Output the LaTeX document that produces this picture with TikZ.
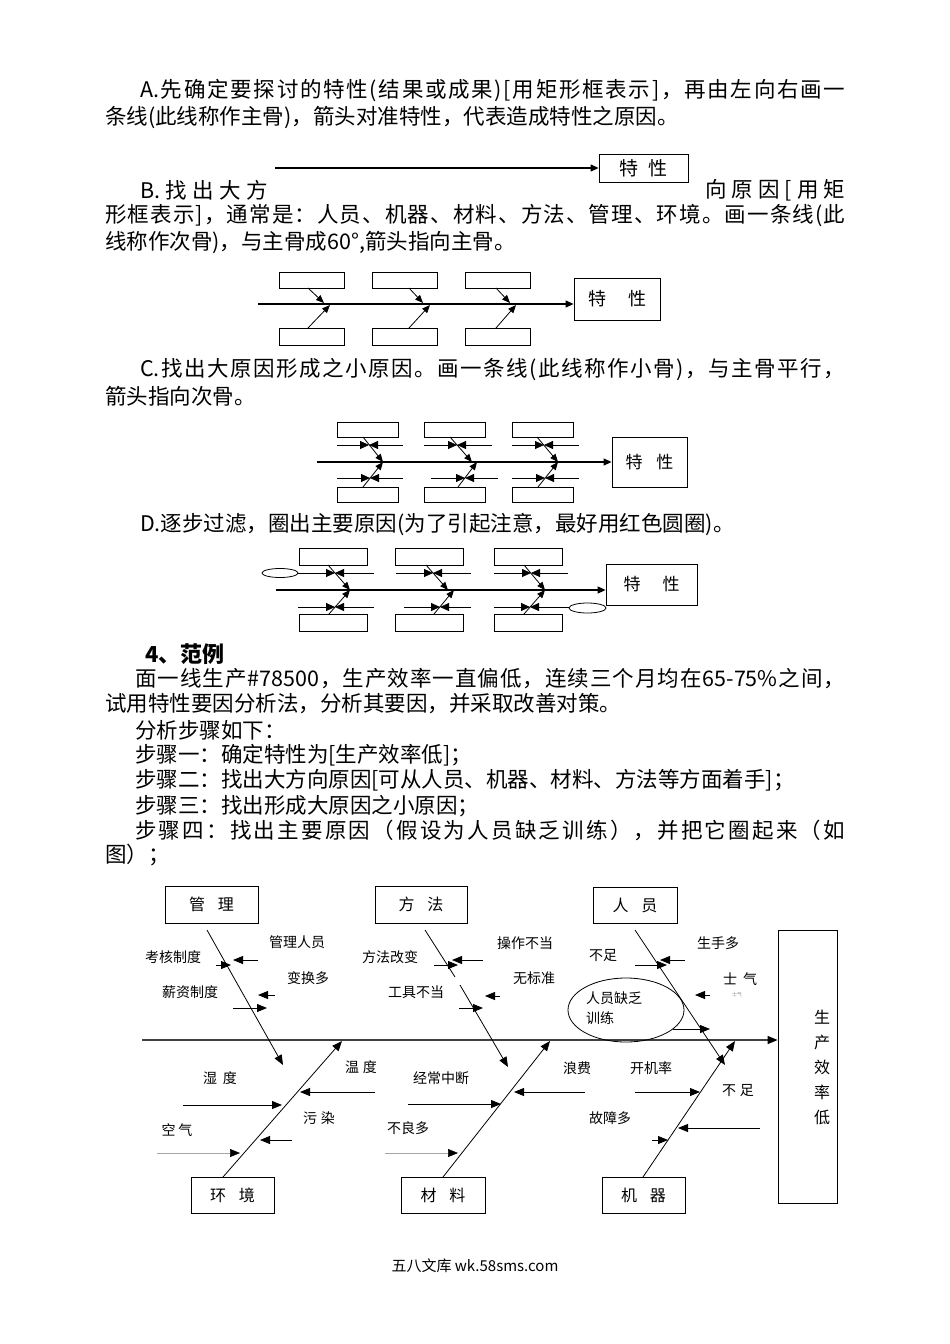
\documentclass[tikz,border=0pt]{standalone}
\usepackage{fontspec}
\setmainfont{Noto Sans CJK SC}
\usetikzlibrary{arrows.meta,shapes.geometric}
\def\endspread{ENDSPREAD}
\def\spreadtok#1{\ifx#1\endspread\else#1\hfill\expandafter\spreadtok\fi}
\newcommand\justline[2]{\hbox to #1{\spreadtok#2\endspread\unskip}}
\begin{document}
\begin{tikzpicture}[x=1pt,y=-1pt,
  txt/.style={anchor=west,inner sep=0pt,font=\fontsize{21.5}{24}\selectfont},
  lbl/.style={inner sep=0pt,font=\fontsize{14}{16}\selectfont},
  bx/.style={draw,line width=0.8pt,inner sep=0pt},
  ln/.style={line width=0.8pt},
  arr/.style={line width=0.8pt,-{Triangle[length=8pt,width=6.5pt]}},
  sarr/.style={line width=0.8pt,-{Triangle[length=9pt,width=8pt]}},
  mainarr/.style={line width=1.1pt,-{Triangle[length=8pt,width=7pt]}},
  barr/.style={line width=0.8pt,-{Triangle[length=10pt,width=8pt]}},
  garr/.style={line width=0.6pt,draw=black!35,-{Triangle[length=10pt,width=8pt,black]}},
]
\useasboundingbox (0,0) rectangle (950,1344);
\fill[white] (0,0) rectangle (950,1344);

% ---------- text ----------
\node[txt] (a1) at (140,90) {\justline{705pt}{{A.}先确定要探讨的特性(结果或成果)[用矩形框表示]，再由左向右画一}};
\node[txt] (a2) at (105,117) {条线(此线称作主骨)，箭头对准特性，代表造成特性之原因。};
\node[txt] (b1a) at (140,190) {\justline{128pt}{{B.}找出大方}};
\node[txt] (b1b) at (705,190) {\justline{140pt}{向原因[用矩}};
\node[txt] (b2) at (105,216) {\justline{740pt}{形框表示]，通常是：人员、机器、材料、方法、管理、环境。画一条线(此}};
\node[txt] (b3) at (105,242) {线称作次骨)，与主骨成60°,箭头指向主骨。};
\node[txt] (c1) at (140,370) {\justline{705pt}{{C.}找出大原因形成之小原因。画一条线(此线称作小骨)，与主骨平行，}};
\node[txt] (c2) at (105,396) {箭头指向次骨。};
\node[txt] (d1) at (140,524) {D.逐步过滤，圈出主要原因(为了引起注意，最好用红色圆圈)。};
\node[txt,font=\fontsize{22}{24}\selectfont\bfseries] (h4) at (145,654) {4、范例};
\node[txt] (s1) at (135,679) {\justline{710pt}{面一线生产{\#78500}，生产效率一直偏低，连续三个月均在{65-75\%}之间，}};
\node[txt] (s2) at (105,704) {试用特性要因分析法，分析其要因，并采取改善对策。};
\node[txt] (s3) at (135,730) {分析步骤如下：};
\node[txt] (s4) at (135,755) {步骤一：确定特性为[生产效率低]；};
\node[txt] (s5) at (135,780) {步骤二：找出大方向原因[可从人员、机器、材料、方法等方面着手]；};
\node[txt] (s6) at (135,806) {步骤三：找出形成大原因之小原因；};
\node[txt] (s7) at (135,830) {\justline{710pt}{步骤四：找出主要原因（假设为人员缺乏训练），并把它圈起来（如}};
\node[txt] (s8) at (105,855) {图）；};

% ---------- diagram A ----------
\node[bx,minimum width=89pt,minimum height=28pt,font=\fontsize{19}{20}\selectfont] (ka) at (643.5,168) {特\hspace{10pt}性};
\coordinate (aa0) at (275,168);
\draw[mainarr] (aa0) -- (ka.west);

% ---------- diagram B ----------
\node[bx,minimum width=86pt,minimum height=42pt,font=\fontsize{18}{20}\selectfont] (kb) at (617,299) {特\hspace{22pt}性};
\foreach \n/\cx in {1/311.5,2/405,3/498}{
  \node[bx,minimum width=65pt,minimum height=16pt] (bt\n) at (\cx,280) {};
  \node[bx,minimum width=65pt,minimum height=17pt] (bb\n) at (\cx,336.5) {};
}
\coordinate (bm0) at (258,304);
\draw[mainarr] (bm0) -- (kb.west |- bm0);
\foreach \n/\xs/\xe/\xf in {1/308/324/330,2/409/423/430,3/496/510/516}{
  \coordinate (bts\n) at (\xs,288); \coordinate (bte\n) at (\xe,303);
  \coordinate (bbs\n) at (\xs,328); \coordinate (bbe\n) at (\xf,305);
  \draw[arr] (bts\n) -- (bte\n);
  \draw[arr] (bbs\n) -- (bbe\n);
}

% ---------- diagram C ----------
\node[bx,minimum width=75pt,minimum height=50pt,font=\fontsize{17}{20}\selectfont] (kc) at (649.5,462) {特\hspace{14pt}性};
\foreach \n/\cx in {1/367.5,2/454.5,3/542.5}{
  \node[bx,minimum width=61pt,minimum height=15pt] (ct\n) at (\cx,429.5) {};
  \node[bx,minimum width=61pt,minimum height=15pt] (cb\n) at (\cx,494.5) {};
}
\coordinate (cm0) at (317,462);
\draw[mainarr] (cm0) -- (kc.west |- cm0);
\foreach \n/\ts/\te/\bs/\be in {1/363/383/363/383,2/450/472/458/477,3/537/558/538/558}{
  \coordinate (cts\n) at (\ts,437); \coordinate (cte\n) at (\te,462);
  \coordinate (cbs\n) at (\bs,487); \coordinate (cbe\n) at (\be,462);
  \draw[arr] (cts\n) -- (cte\n);
  \draw[arr] (cbs\n) -- (cbe\n);
}
\foreach \n/\l/\m/\r/\yy in {t1/337/369/403/445,b1/337/370/403/478,t2/424/457/492/445,b2/431/465/498/478,t3/512/544/579/445,b3/512/545/579/478}{
  \coordinate (csl\n) at (\l,\yy); \coordinate (csm\n) at (\m,\yy); \coordinate (csr\n) at (\r,\yy);
  \draw[sarr] (csl\n) -- (csm\n);
  \draw[sarr] (csr\n) -- (csm\n);
}

% ---------- diagram D ----------
\node[bx,minimum width=91pt,minimum height=41pt,font=\fontsize{17}{20}\selectfont] (kd) at (651.5,584.5) {特\hspace{22pt}性};
\foreach \n/\cx in {1/333,2/429.5,3/528}{
  \node[bx,minimum width=68pt,minimum height=17pt] (dt\n) at (\cx,556.5) {};
  \node[bx,minimum width=68pt,minimum height=17pt] (db\n) at (\cx,622.5) {};
}
\coordinate (dm0) at (276,590);
\draw[mainarr] (dm0) -- (kd.west |- dm0);
\foreach \n/\ts/\te/\bs/\be in {1/328/350/329/350,2/426/448/434/454,3/524/545/524/545}{
  \coordinate (dts\n) at (\ts,565); \coordinate (dte\n) at (\te,590);
  \coordinate (dbs\n) at (\bs,614); \coordinate (dbe\n) at (\be,590);
  \draw[arr] (dts\n) -- (dte\n);
  \draw[arr] (dbs\n) -- (dbe\n);
}
\foreach \n/\l/\m/\r/\yy in {t1/298/335/374/573,b1/298/335/374/607,t2/396/433/471/573,b2/404/440/471/607,t3/494/531/568/573,b3/494/530/569/607}{
  \coordinate (dsl\n) at (\l,\yy); \coordinate (dsm\n) at (\m,\yy); \coordinate (dsr\n) at (\r,\yy);
  \draw[sarr] (dsl\n) -- (dsm\n);
  \draw[sarr] (dsr\n) -- (dsm\n);
}
\node[draw,ellipse,line width=0.8pt,minimum width=36pt,minimum height=9pt,inner sep=0pt] (del1) at (280,573) {};
\node[draw,ellipse,line width=0.8pt,minimum width=37pt,minimum height=10pt,inner sep=0pt] (del2) at (587.5,608) {};

% ---------- big fishbone ----------
\tikzset{fb/.style={bx,minimum height=36pt,font=\fontsize{16}{18}\selectfont}}
\node[fb,minimum width=93pt,minimum height=37pt] (mgmt) at (211.5,904.5) {管\hspace{13pt}理};
\node[fb,minimum width=92pt,minimum height=37pt] (meth) at (421,904.5) {方\hspace{13pt}法};
\node[fb,minimum width=84pt] (pers) at (635,905) {人\hspace{13pt}员};
\node[fb,minimum width=83pt] (env) at (232.5,1195) {环\hspace{13pt}境};
\node[fb,minimum width=84pt] (mat) at (443,1195) {材\hspace{13pt}料};
\node[fb,minimum width=83pt] (mach) at (643.5,1195) {机\hspace{13pt}器};
\node[bx,minimum width=59pt,minimum height=273pt] (eff) at (807.5,1066.5) {};
\node[inner sep=0pt,align=center,font=\fontsize{16}{25}\selectfont] (efft) at (822,1067) {生\\产\\效\\率\\低};

\coordinate (fm0) at (142,1040);
\draw[line width=1.4pt,draw=black!75,-{Triangle[length=10pt,width=8pt,black]}] (fm0) -- (fm0 -| eff.west);

% main bones
\coordinate (bn1s) at (207,930); \coordinate (bn1e) at (283,1065);
\coordinate (bn2s) at (425,930); \coordinate (bn2m) at (455,977);
\coordinate (bn2n) at (460,985); \coordinate (bn2e) at (508,1067);
\coordinate (bn3s) at (635,930); \coordinate (bn3e) at (725,1065);
\coordinate (bn4s) at (223,1177); \coordinate (bn4e) at (342,1041);
\coordinate (bn5s) at (443,1177); \coordinate (bn5e) at (550,1041);
\coordinate (bn6s) at (643,1177); \coordinate (bn6e) at (735,1041);
\draw[barr] (bn1s) -- (bn1e);
\draw[ln] (bn2s) -- (bn2m);
\draw[barr] (bn2n) -- (bn2e);
\draw[barr] (bn3s) -- (bn3e);
\draw[barr] (bn4s) -- (bn4e);
\draw[barr] (bn5s) -- (bn5e);
\draw[barr] (bn6s) -- (bn6e);

% small arrows
\foreach \n/\xa/\ya/\xb/\yb in {
  m1/216/965/231/965, m2/258/960/233/960, m3/275/995/258/995, m4/233/1008/267/1008,
  f1/434/965/458/965, f2/483/960/452/960, f3/500/996/485/996, f4/459/1008/483/1008,
  p1/635/965/667/965, p2/685/960/660/960, p3/710/995/695/995, p4/673/1029/710/1029,
  e1/183/1105/282/1105, e2/375/1092/300/1092, e3/292/1140/260/1140,
  t1/408/1104/501/1104, t2/585/1092/514/1092,
  k1/635/1092/700/1092, k2/760/1128/678/1128, k3/652/1140/668/1140}{
  \coordinate (sa\n) at (\xa,\ya); \coordinate (sb\n) at (\xb,\yb);
  \draw[barr] (sa\n) -- (sb\n);
}
\coordinate (gae) at (157,1153); \coordinate (gbe) at (240,1153);
\draw[garr] (gae) -- (gbe);
\coordinate (gat) at (385,1153); \coordinate (gbt) at (458,1153);
\draw[garr] (gat) -- (gbt);

% circled main cause
\node[draw,ellipse,line width=0.8pt,minimum width=116pt,minimum height=64pt,inner sep=0pt] (circ) at (626,1010) {};
\node[lbl,anchor=west] (c1t) at (586,998) {人员缺乏};
\node[lbl,anchor=west] (c2t) at (586,1018) {训练};

% labels
\node[lbl] (l1) at (173,957) {考核制度};
\node[lbl] (l2) at (297,942) {管理人员};
\node[lbl] (l3) at (308,978) {变换多};
\node[lbl] (l4) at (190,992) {薪资制度};
\node[lbl] (l5) at (390,957) {方法改变};
\node[lbl] (l6) at (525,943) {操作不当};
\node[lbl] (l7) at (534,978) {无标准};
\node[lbl] (l8) at (416,992) {工具不当};
\node[lbl] (l9) at (603,956) {不足};
\node[lbl] (l10) at (718,943) {生手多};
\node[lbl] (l11) at (740,979) {士\hspace{6pt}气};
\node[inner sep=0pt,font=\fontsize{5}{6}\selectfont,text=black!45] (l12) at (737,995) {士气};
\node[lbl] (l13) at (220,1078) {湿\hspace{6pt}度};
\node[lbl] (l14) at (361,1067) {温\hspace{4pt}度};
\node[lbl] (l15) at (319,1118) {污\hspace{4pt}染};
\node[lbl] (l16) at (177,1130) {空\hspace{3pt}气};
\node[lbl] (l17) at (441,1078) {经常中断};
\node[lbl] (l18) at (577,1068) {浪费};
\node[lbl] (l19) at (408,1128) {不良多};
\node[lbl] (l20) at (651,1068) {开机率};
\node[lbl] (l21) at (738,1091) {不\hspace{4pt}足};
\node[lbl] (l22) at (610,1118) {故障多};

% footer
\node[inner sep=0pt,font=\fontsize{15}{17}\selectfont] (foot) at (475,1266) {五八文库 wk.58sms.com};
\end{tikzpicture}
\end{document}
